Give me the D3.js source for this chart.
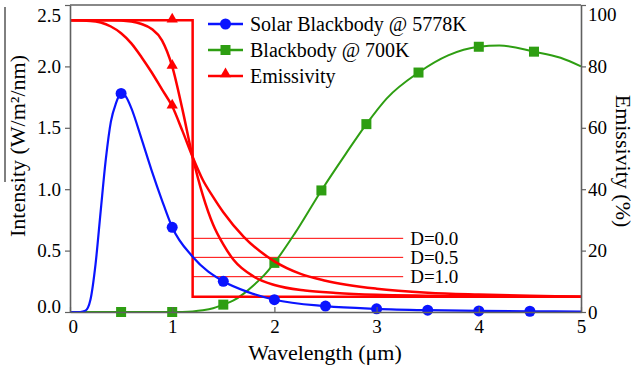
<!DOCTYPE html>
<html><head><meta charset="utf-8">
<script src="https://cdn.jsdelivr.net/npm/d3@7"></script>
<style>
html,body{margin:0;padding:0;background:#fff;}
svg{display:block;font-family:"Liberation Serif","Times New Roman",serif;}
</style></head>
<body><svg id="c" width="638" height="369"></svg>
<script>
// ---------- data ----------
const xTicks = [0, 1, 2, 3, 4, 5];
const leftTicks = [0, 0.5, 1.0, 1.5, 2.0, 2.5];
const rightTicks = [0, 20, 40, 60, 80, 100];

const blueWl  = [0, 0.1, 0.15, 0.2, 0.25, 0.3, 0.35, 0.4, 0.45, 0.5, 0.55, 0.6, 0.7, 0.8, 0.9, 1.0, 1.2, 1.5, 1.75, 2.0, 2.5, 3.0, 3.5, 4.0, 4.5, 5.0];
const blueVal = [0, 0, 0.01, 0.1, 0.39, 0.82, 1.24, 1.55, 1.70, 1.78, 1.75, 1.66, 1.41, 1.15, 0.91, 0.69, 0.45, 0.25, 0.16, 0.10, 0.048, 0.026, 0.015, 0.009, 0.006, 0.004];
const blueMarkWl = [0.5, 1.0, 1.5, 2.0, 2.5, 3.0, 3.5, 4.0, 4.5];

const greenWl  = [0, 0.5, 1.0, 1.1, 1.2, 1.3, 1.4, 1.5, 1.6, 1.7, 1.8, 1.9, 2.0, 2.2, 2.46, 2.7, 2.9, 3.1, 3.41, 3.7, 4.0, 4.2, 4.54, 4.8, 5.0];
const greenVal = [0, 0, 0, 0.001, 0.005, 0.014, 0.03, 0.06, 0.094, 0.15, 0.22, 0.30, 0.40, 0.64, 0.99, 1.29, 1.53, 1.74, 1.95, 2.09, 2.16, 2.17, 2.12, 2.07, 2.0];
const greenMarkWl = [0.5, 1.0, 1.5, 2.0, 2.46, 2.9, 3.41, 4.0, 4.54];

// emissivity (%), right axis
const d0Wl  = [0, 1.0, 1.2, 1.2, 5];
const d0Val = [95, 95, 95, 5, 5];
const d05Wl  = [0, 0.4, 0.6, 0.7, 0.8, 0.9, 1.0, 1.1, 1.2, 1.3, 1.4, 1.5, 1.6, 1.8, 2.0, 2.3, 2.6, 3.0, 3.5, 4.0, 5.0];
const d05Val = [95, 95, 94.6, 93.8, 92.2, 88.5, 80, 66, 50.5, 38, 28.5, 22, 17, 11.5, 8.8, 7, 6.2, 5.6, 5.3, 5.1, 5.0];
const d10Wl  = [0, 0.2, 0.3, 0.4, 0.5, 0.6, 0.7, 0.8, 0.9, 1.0, 1.1, 1.2, 1.3, 1.4, 1.5, 1.7, 2.0, 2.25, 2.5, 3.0, 3.5, 4.0, 4.5, 5.0];
const d10Val = [95, 94.8, 94.3, 93, 90.8, 87.5, 83, 78, 72.5, 67, 59, 50.5, 43, 37.5, 32.5, 24.5, 16.5, 12.5, 10.2, 7.6, 6.3, 5.7, 5.3, 5.0];
const triMarkWl = [1.0];

const dLabels = ["D=0.0", "D=0.5", "D=1.0"];
const dLevels = [24, 17.8, 11.5];   // % on right axis
const dLineWl = [1.2, 3.26];

const legendNames = ["Solar Blackbody @ 5778K", "Blackbody @ 700K", "Emissivity"];

// ---------- layout ----------
const FF = "Liberation Serif, Times New Roman, serif";
const C_BLUE = "#0a14ff", C_GREEN = "#2e9e12", C_RED = "#ff0000", C_AX = "#606060";
const svg = d3.select("#c");
const x = d3.scaleLinear().domain([0, 5]).range([70, 581]);
const yL = d3.scaleLinear().domain([0, 2.5]).range([312, 5]);
const yR = d3.scaleLinear().domain([0, 100]).range([312, 5]);

const zip = (a, b) => a.map((v, i) => [v, b[i]]);
const blue = zip(blueWl, blueVal), green = zip(greenWl, greenVal);
const d0 = zip(d0Wl, d0Val), d05 = zip(d05Wl, d05Val), d10 = zip(d10Wl, d10Val);

// thin D reference lines + labels
dLevels.forEach((lv, i) => {
  svg.append("line").attr("x1", x(dLineWl[0])).attr("x2", x(dLineWl[1]))
    .attr("y1", yR(lv)).attr("y2", yR(lv)).attr("stroke", C_RED).attr("stroke-width", 1);
  svg.append("text").attr("x", x(dLineWl[1]) + 7).attr("y", yR(lv)).attr("dy", "0.35em")
    .attr("font-family", FF).attr("font-size", 19).text(dLabels[i]);
});

const lineL = d3.line().x(d => x(d[0])).y(d => yL(d[1])).curve(d3.curveMonotoneX);
const lineR = d3.line().x(d => x(d[0])).y(d => yR(d[1])).curve(d3.curveMonotoneX);
const lineRlin = d3.line().x(d => x(d[0])).y(d => yR(d[1]));

// green
svg.append("path").attr("d", lineL(green)).attr("fill", "none").attr("stroke", C_GREEN).attr("stroke-width", 2);
svg.selectAll(".gm").data(green.filter(d => greenMarkWl.includes(d[0]))).enter().append("rect")
  .attr("x", d => x(d[0]) - 5).attr("y", d => yL(d[1]) - 5).attr("width", 10).attr("height", 10).attr("fill", C_GREEN);

// red
svg.append("path").attr("d", lineRlin(d0)).attr("fill", "none").attr("stroke", C_RED).attr("stroke-width", 2.5);
svg.append("path").attr("d", lineR(d05)).attr("fill", "none").attr("stroke", C_RED).attr("stroke-width", 2.5);
svg.append("path").attr("d", lineR(d10)).attr("fill", "none").attr("stroke", C_RED).attr("stroke-width", 2.5);
const tri = d3.symbol().type(d3.symbolTriangle).size(55);
[d0, d05, d10].forEach(s => {
  s.filter(d => triMarkWl.includes(d[0])).forEach(d => {
    svg.append("path").attr("d", tri()).attr("transform", `translate(${x(d[0])},${yR(d[1]) - 1})`).attr("fill", C_RED);
  });
});

// blue
svg.append("path").attr("d", lineL(blue)).attr("fill", "none").attr("stroke", C_BLUE).attr("stroke-width", 2.2);
svg.selectAll(".bm").data(blue.filter(d => blueMarkWl.includes(d[0]))).enter().append("circle")
  .attr("cx", d => x(d[0])).attr("cy", d => yL(d[1])).attr("r", 5.5).attr("fill", C_BLUE);

// ---------- axes ----------
const fmt1 = d3.format(".1f");
const gL = svg.append("g").attr("transform", "translate(70,0)")
  .call(d3.axisLeft(yL).tickValues(leftTicks).tickFormat(fmt1).tickSizeInner(5).tickSizeOuter(0).tickPadding(4));
const gR = svg.append("g").attr("transform", "translate(581,0)")
  .call(d3.axisRight(yR).tickValues(rightTicks).tickSizeInner(5).tickSizeOuter(0).tickPadding(2));
const gB = svg.append("g").attr("transform", "translate(0,312)")
  .call(d3.axisBottom(x).tickValues(xTicks).tickFormat(d3.format("d")).tickSizeInner(-5).tickSizeOuter(0).tickPadding(8));
[gL, gR, gB].forEach(g => {
  g.attr("font-family", FF).attr("font-size", 19);
  g.select(".domain").attr("stroke", C_AX).attr("stroke-width", 1.6);
  g.selectAll(".tick line").attr("stroke", C_AX).attr("stroke-width", 1.2);
  g.selectAll("text").attr("font-family", FF).attr("font-size", 19).attr("fill", "#000");
});
// nudge extreme labels inward as in the reference
gL.selectAll(".tick text").filter(d => d === 2.5).attr("dy", "0.85em");
gL.selectAll(".tick text").filter(d => d === 0).attr("dy", "0.05em");
gR.selectAll(".tick text").filter(d => d === 100).attr("dy", "0.8em");
gB.selectAll(".tick text").filter(d => d === 0).attr("dx", "0.15em");
// top frame
svg.append("line").attr("x1", 70).attr("x2", 581).attr("y1", 5).attr("y2", 5).attr("stroke", C_AX).attr("stroke-width", 1.6);

// axis titles
svg.append("text").attr("x", 325).attr("y", 352).attr("dy", "0.35em").attr("text-anchor", "middle")
  .attr("font-family", FF).attr("font-size", 22).text("Wavelength (μm)");
svg.append("text").attr("transform", "translate(17,146) rotate(-90)").attr("dy", "0.35em").attr("text-anchor", "middle")
  .attr("font-family", FF).attr("font-size", 22).text("Intensity (W/m²/nm)");
svg.append("line").attr("x1", 5).attr("x2", 5).attr("y1", 7).attr("y2", 182).attr("stroke", "#000").attr("stroke-width", 1);
svg.append("text").attr("transform", "translate(624,161) rotate(90)").attr("dy", "0.35em").attr("text-anchor", "middle")
  .attr("font-family", FF).attr("font-size", 22).text("Emissivity (%)");

// legend
const legColors = [C_BLUE, C_GREEN, C_RED];
const legY = [24, 50, 76];
legendNames.forEach((n, i) => {
  const g = svg.append("g").attr("transform", `translate(0,${legY[i]})`);
  g.append("line").attr("x1", 208).attr("x2", 243).attr("y1", 0).attr("y2", 0).attr("stroke", legColors[i]).attr("stroke-width", 2.5);
  if (i === 0) g.append("circle").attr("cx", 225.5).attr("cy", 0).attr("r", 5.5).attr("fill", C_BLUE);
  if (i === 1) g.append("rect").attr("x", 220.5).attr("y", -5).attr("width", 10).attr("height", 10).attr("fill", C_GREEN);
  if (i === 2) g.append("path").attr("d", tri()).attr("transform", "translate(225.5,-2)").attr("fill", C_RED);
  g.append("text").attr("x", 250).attr("y", 0).attr("dy", "0.35em").attr("font-family", FF).attr("font-size", 20).text(n);
});
</script></body></html>
